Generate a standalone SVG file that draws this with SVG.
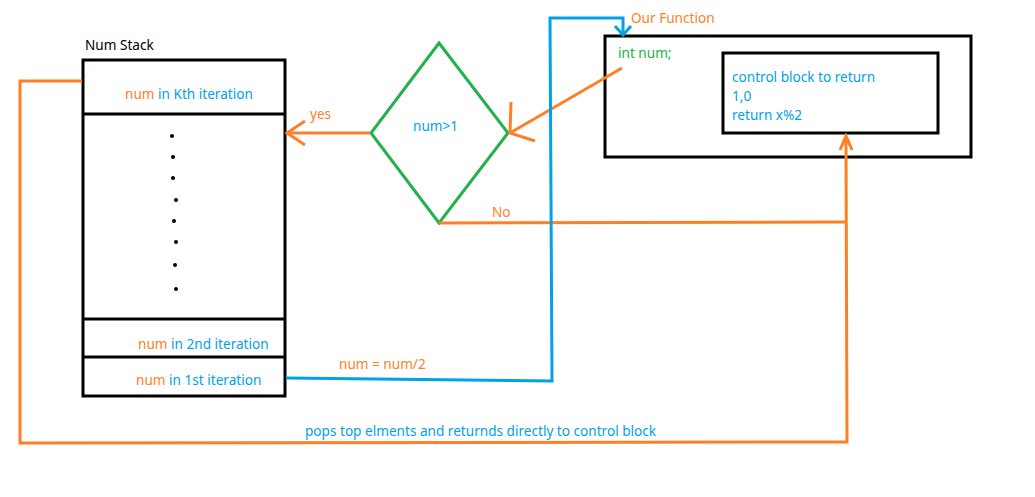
<svg xmlns="http://www.w3.org/2000/svg" width="1035" height="497" viewBox="0 0 1035 497">
<style>
text{font-family:"Noto Sans","Open Sans","Liberation Sans",sans-serif;font-size:13.6px}
.o{fill:#ff7f27}.b{fill:#00a2e8}.g{fill:#22b14c}.k{fill:#000}
.box{fill:none;stroke:#000;stroke-width:3}
.ol{fill:none;stroke:#ff7f27;stroke-width:3}
.bl{fill:none;stroke:#00a2e8;stroke-width:3}
.gl{fill:none;stroke:#22b14c;stroke-width:3}
</style>
<rect width="1035" height="497" fill="#fff"/>
<g id="stack">
<text x="85" y="50" class="k">Num Stack</text>
<rect x="83" y="60" width="202" height="336" class="box"/>
<line x1="83" y1="114" x2="285" y2="114" class="box"/>
<line x1="83" y1="319" x2="285" y2="319" class="box"/>
<line x1="83" y1="357" x2="285" y2="357" class="box"/>
<text x="125" y="99"><tspan class="o">num</tspan><tspan class="b"> in Kth iteration</tspan></text>
<g class="k">
<circle cx="172" cy="136" r="2"/><circle cx="173" cy="157" r="2"/><circle cx="173" cy="178" r="2"/><circle cx="176" cy="200" r="2"/>
<circle cx="174" cy="221" r="2"/><circle cx="176" cy="242" r="2"/><circle cx="175" cy="265" r="2"/><circle cx="176" cy="289" r="2"/>
</g>
<text x="138" y="349"><tspan class="o">num</tspan><tspan class="b"> in 2nd iteration</tspan></text>
<text x="136" y="385"><tspan class="o">num</tspan><tspan class="b"> in 1st iteration</tspan></text>
</g>
<g id="decision">
<polygon points="439,43 508,133 439,223 371,133" class="gl"/>
<text x="413" y="131" class="b">num&gt;1</text>
</g>
<g id="function">
<text x="631" y="23" class="o">Our Function</text>
<rect x="605" y="36" width="366" height="121" class="box"/>
<text x="618" y="58" class="g">int num;</text>
</g>
<g id="control">
<rect x="723" y="53" width="215" height="80" class="box"/>
<text x="732" y="82" class="b">control block to return</text>
<text x="732" y="101" class="b">1,0</text>
<text x="732" y="120" class="b">return x%2</text>
</g>
<g id="connectors">
<polyline points="370,133 286,133" class="ol"/>
<polyline points="305,121 287,133 305,145" class="ol"/>
<text x="310" y="119" class="o">yes</text>
<line x1="622" y1="68" x2="510" y2="133" class="ol"/>
<polyline points="511,102 510,133 535,141" class="ol"/>
<polyline points="439,223 846,222" class="ol"/>
<text x="492" y="217" class="o">No</text>
<polyline points="82,81 20,81 20,443 847,442 846,137" class="ol"/>
<polyline points="840,150 846,136 852,150" class="ol"/>
<text x="305" y="436" class="b">pops top elments and returnds directly to control block</text>
<polyline points="286,378 552,381 550,18 623,18 623,35" class="bl"/>
<polyline points="615,26 623,35 631,26" class="bl"/>
<text x="339" y="369" class="o">num = num/2</text>
</g>
</svg>
